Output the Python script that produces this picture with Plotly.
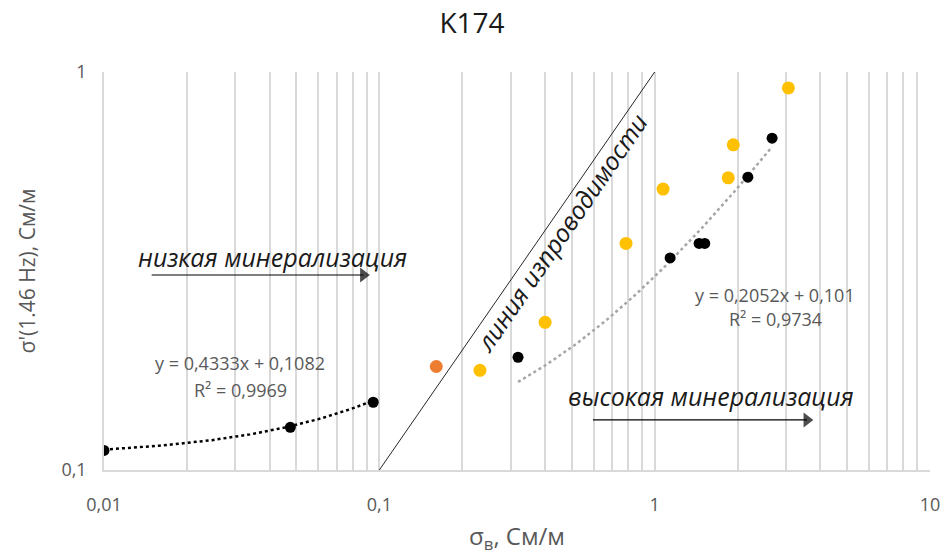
import numpy as np
import plotly.graph_objects as go

# ---- data ----
low_x = [0.01, 0.0475, 0.095]
low_y = [0.112, 0.128, 0.148]
high_black_x = [0.319, 1.138, 1.45, 1.52, 2.18, 2.67]
high_black_y = [0.192, 0.341, 0.371, 0.371, 0.544, 0.682]
orange_x = [0.161]
orange_y = [0.182]
yellow_x = [0.232, 0.400, 0.787, 1.073, 1.85, 1.93, 3.06]
yellow_y = [0.178, 0.235, 0.371, 0.508, 0.542, 0.656, 0.912]
trend1_coef = (0.4333, 0.1082)
trend2_coef = (0.2052, 0.101)
cond_line_x = [0.1, 1.0]
cond_line_y = [0.1, 1.0]
x_tick_vals = [0.01, 0.1, 1, 10]
x_tick_text = ["0,01", "0,1", "1", "10"]
y_tick_vals = [0.1, 1]
y_tick_text = ["0,1", "1"]
# annotation arrows (start x, end x, y)
arrow_low = (0.0149, 0.0875, 0.309)
arrow_high = (0.597, 3.57, 0.1336)

FONT = "Open Sans"
GREY_TXT = "#595959"

def trend(xs, coef, n=60):
    t = np.logspace(np.log10(min(xs)), np.log10(max(xs)), n)
    return t, coef[0] * t + coef[1]

fig = go.Figure()

t1x, t1y = trend(low_x, trend1_coef)
t2x, t2y = trend(high_black_x, trend2_coef)

fig.add_trace(go.Scatter(x=cond_line_x, y=cond_line_y, mode="lines",
                         line=dict(color="#262626", width=1), hoverinfo="skip"))
fig.add_trace(go.Scatter(x=t1x, y=t1y, mode="lines",
                         line=dict(color="black", width=2.5, dash="dot"), hoverinfo="skip"))
fig.add_trace(go.Scatter(x=t2x, y=t2y, mode="lines",
                         line=dict(color="#a6a6a6", width=2.5, dash="dot"), hoverinfo="skip"))
fig.add_trace(go.Scatter(x=low_x, y=low_y, mode="markers",
                         marker=dict(color="black", size=11)))
fig.add_trace(go.Scatter(x=high_black_x, y=high_black_y, mode="markers",
                         marker=dict(color="black", size=11)))
fig.add_trace(go.Scatter(x=orange_x, y=orange_y, mode="markers",
                         marker=dict(color="#ED7D31", size=13)))
fig.add_trace(go.Scatter(x=yellow_x, y=yellow_y, mode="markers",
                         marker=dict(color="#FFC000", size=13)))

for (x0, x1, y) in (arrow_low, arrow_high):
    fig.add_trace(go.Scatter(x=[x0, x1], y=[y, y], mode="lines+markers",
                             line=dict(color="black", width=1.2),
                             marker=dict(symbol=["line-ns", "triangle-right"], size=[0, 13],
                                         color="black", line=dict(width=0)),
                             hoverinfo="skip"))

ann = []
def txt(x, y, s, size=17, color="black", angle=0, italic=False):
    ann.append(dict(x=np.log10(x), y=np.log10(y), xref="x", yref="y", text=s,
                    showarrow=False, textangle=angle,
                    font=dict(family=FONT, size=size, color=color,
                              style="italic" if italic else "normal")))

txt(0.0409, 0.343, "низкая минерализация", size=25, color="#1a1a1a", italic=True)
txt(1.603, 0.1535, "высокая минерализация", size=25, color="#1a1a1a", italic=True)
txt(0.455, 0.394, "линия изпроводимости", size=25, color="#1a1a1a", italic=True, angle=-55.5)
txt(0.0313, 0.186, "y = 0,4333x + 0,1082", size=18, color=GREY_TXT)
txt(0.0313, 0.159, "R² = 0,9969", size=18, color=GREY_TXT)
txt(2.737, 0.2753, "y = 0,2052x + 0,101", size=18, color=GREY_TXT)
txt(2.737, 0.2395, "R² = 0,9734", size=18, color=GREY_TXT)

fig.update_layout(
    width=944, height=555,
    margin=dict(l=104, r=14, t=72, b=85),
    paper_bgcolor="white", plot_bgcolor="white",
    showlegend=False,
    font=dict(family=FONT, color=GREY_TXT),
    title=dict(text="K174", x=0.5, xanchor="center", y=0.958, yanchor="middle",
               font=dict(family=FONT, size=28, color="#1a1a1a")),
    annotations=ann,
)
fig.update_xaxes(type="log", range=[-2, 1], tickvals=x_tick_vals, ticktext=x_tick_text,
                 showgrid=True, gridcolor="#d9d9d9", gridwidth=1.5,
                 minor=dict(dtick="D1", showgrid=True, gridcolor="#d9d9d9", gridwidth=1.5, ticks=""),
                 showline=True, linecolor="#d9d9d9", linewidth=1.5, zeroline=False,
                 ticks="", ticklabelstandoff=18, automargin=False,
                 tickfont=dict(family=FONT, size=18, color=GREY_TXT),
                 title=dict(text="σ<sub>в</sub>, См/м", standoff=24,
                            font=dict(family=FONT, size=24, color=GREY_TXT)))
fig.update_yaxes(type="log", range=[-1, 0], tickvals=y_tick_vals, ticktext=y_tick_text,
                 showgrid=True, gridcolor="#d9d9d9", gridwidth=1.5,
                 showline=True, linecolor="#d9d9d9", linewidth=1.5, zeroline=False,
                 mirror=False, ticks="", ticklabelstandoff=12, automargin=False,
                 tickfont=dict(family=FONT, size=18, color=GREY_TXT),
                 title=dict(text="σ'(1.46 Hz), См/м", standoff=20,
                            font=dict(family=FONT, size=21, color=GREY_TXT)))

fig.write_html("out.html")
